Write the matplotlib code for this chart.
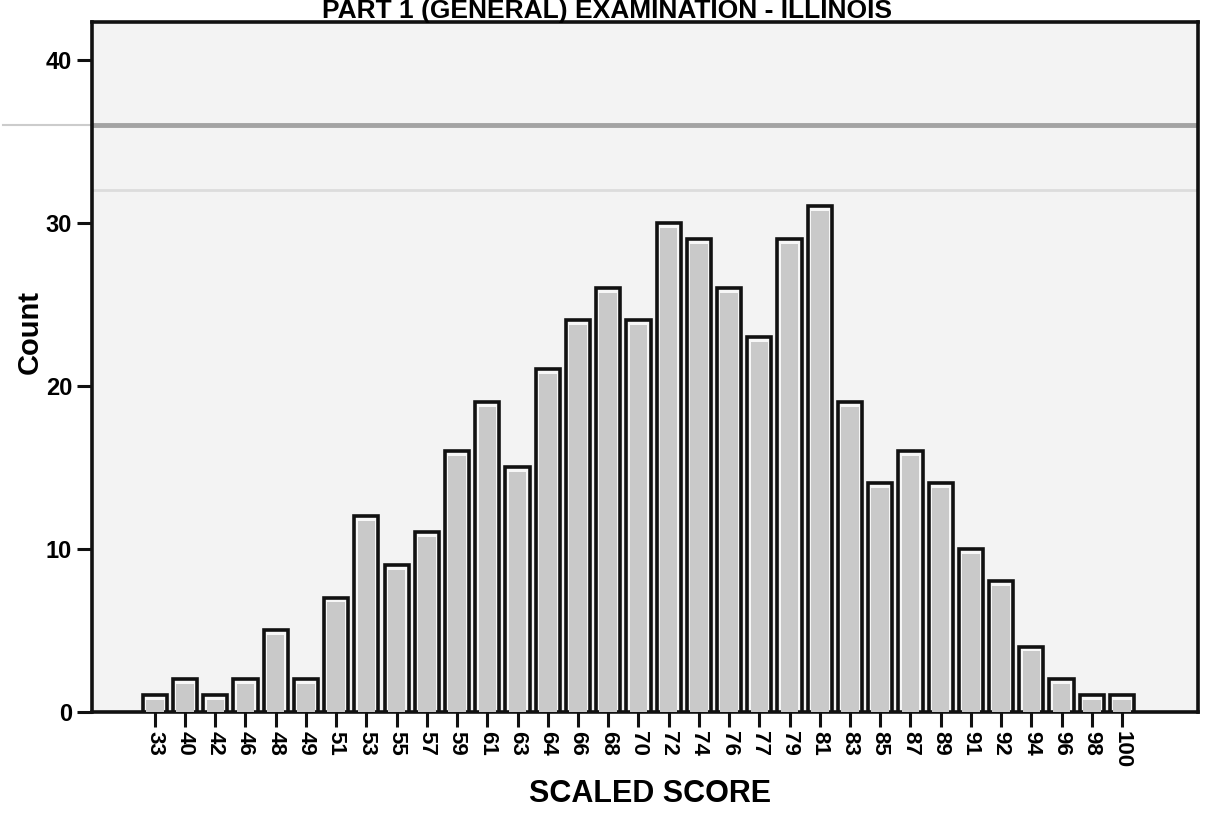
import matplotlib
matplotlib.use("Agg")
import matplotlib.pyplot as plt
import numpy as np

plt.rcParams['font.family'] = ['Liberation Sans', 'DejaVu Sans']

# Data
scores = ["33", "40", "42", "46", "48", "49", "51", "53", "55", "57", "59", "61",
          "63", "64", "66", "68", "70", "72", "74", "76", "77", "79", "81", "83",
          "85", "87", "89", "91", "92", "94", "96", "98", "100"]
counts = [1, 2, 1, 2, 5, 2, 7, 12, 9, 11, 16, 19,
          15, 21, 24, 26, 24, 30, 29, 26, 23, 29, 31, 19,
          14, 16, 14, 10, 8, 4, 2, 1, 1]
y_ticks = [0, 10, 20, 30, 40]

title = "PART 1 (GENERAL) EXAMINATION - ILLINOIS"
x_label = "SCALED SCORE"
y_label = "Count"

fig = plt.figure(figsize=(12.06, 8.19), dpi=100)
ax = fig.add_axes([0.076, 0.131, 0.917, 0.842])
ax.set_facecolor('#f3f3f3')

x = np.arange(len(scores))
ax.bar(x, counts, width=0.8, facecolor='#f7f7f7', edgecolor='#111111',
       linewidth=2.6, zorder=3)
ax.bar(x, np.array(counts) - 0.3, width=0.58, facecolor='#c9c9c9',
       edgecolor='none', linewidth=0, zorder=4)

# scan artefact lines
ax.axhline(36.0, color='#a3a3a3', lw=3.5, zorder=1)
ax.axhline(36.0, xmin=-0.08, xmax=0.0, color='#cccccc', lw=1.5, clip_on=False)
ax.axhline(32.0, color='#dcdcdc', lw=2, zorder=1)

ax.set_xlim(-2.09, 34.5)
ax.set_ylim(0, 42.3)
ax.set_xticks(x)
ax.set_xticklabels(scores, rotation=270, fontsize=16, fontweight='bold')
ax.set_yticks(y_ticks)
ax.set_yticklabels([str(v) for v in y_ticks], fontsize=17, fontweight='bold')
ax.tick_params(axis='both', direction='out', length=11, width=2.2, color='#111111',
               pad=3)

for s in ax.spines.values():
    s.set_linewidth(2.6)
    s.set_color('#111111')

ax.set_xlabel(x_label, fontsize=22, fontweight='bold', va='center')
ax.xaxis.set_label_coords(0.505, -0.12)
ax.set_ylabel(y_label, fontsize=21, fontweight='bold', va='center')
ax.yaxis.set_label_coords(-0.056, 0.55)

fig.text(0.503, 1 - 18 / 819, title, ha='center', va='baseline',
         fontsize=19, fontweight='bold')

fig.savefig("out.png", dpi=100)
